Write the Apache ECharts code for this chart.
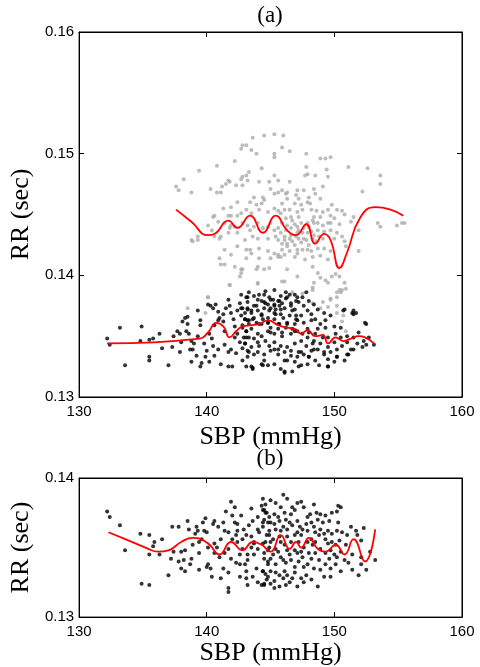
<!DOCTYPE html>
<html><head><meta charset="utf-8">
<script src="https://cdn.jsdelivr.net/npm/echarts@6/dist/echarts.min.js"></script>
<style>html,body{margin:0;padding:0;background:#fff}#c{width:480px;height:667px}</style>
</head><body><div id="c"></div>
<script>
// x ticks / y ticks
const xTicks = [130, 140, 150, 160];
const yTicksA = [0.13, 0.14, 0.15, 0.16];
const yTicksB = [0.13, 0.14];

// Panel (a): gray cloud [SBP, RR]
const grayA = [
[143.6,0.1513],[144.5,0.1515],[145.3,0.1516],[142.8,0.1507],[143.1,0.1507],[142.7,0.1504],[143.5,0.1503],[143.9,0.1500],[145.3,0.1500],[145.3,0.1497],
[142.2,0.1494],[140.8,0.1490],[139.4,0.1486],[138.2,0.1479],[143.3,0.1485],[143.1,0.1482],[144.3,0.1488],[145.3,0.1482],[137.6,0.1473],[137.8,0.1470],
[138.8,0.1468],[140.3,0.1471],[140.8,0.1468],[141.1,0.1468],[141.2,0.1473],[141.5,0.1475],[141.7,0.1478],[141.8,0.1477],[142.3,0.1474],[142.7,0.1479],
[142.8,0.1481],[143.2,0.1478],[142.8,0.1474],[144.1,0.1477],[144.9,0.1477],[145.6,0.1478],[145.0,0.1471],[145.3,0.1467],[145.6,0.1468],[143.7,0.1464],
[144.4,0.1464],[144.5,0.1462],[143.4,0.1460],[143.9,0.1458],[144.3,0.1459],[142.4,0.1460],[141.3,0.1455],[141.9,0.1456],[140.6,0.1449],[140.5,0.1448],
[141.7,0.1449],[141.9,0.1449],[142.4,0.1449],[142.7,0.1451],[143.1,0.1454],[143.5,0.1451],[144.1,0.1454],[144.8,0.1452],[145.3,0.1455],[145.6,0.1453],
[140.9,0.1444],[141.4,0.1443],[141.9,0.1441],[141.8,0.1439],[142.2,0.1440],[142.8,0.1443],[143.2,0.1441],[143.4,0.1437],[143.7,0.1440],[144.0,0.1443],
[144.4,0.1439],[144.8,0.1440],[145.0,0.1443],[145.3,0.1437],[145.6,0.1439],[140.1,0.1441],[140.4,0.1437],[141.7,0.1435],[142.4,0.1435],[140.6,0.1432],
[141.0,0.1430],[141.1,0.1432],[139.3,0.1432],[138.8,0.1429],[138.9,0.1428],[139.3,0.1429],[143.0,0.1429],[143.6,0.1432],[144.0,0.1430],[144.8,0.1430],
[145.4,0.1432],[145.6,0.1429],[141.4,0.1421],[142.4,0.1424],[143.1,0.1421],[143.4,0.1421],[144.1,0.1422],[143.5,0.1418],[144.8,0.1420],[145.3,0.1418],
[145.6,0.1417],[141.0,0.1414],[141.9,0.1417],[143.1,0.1414],[144.1,0.1414],[145.0,0.1414],[145.6,0.1415],[141.1,0.1409],[141.4,0.1409],[142.2,0.1407],
[142.7,0.1405],[142.8,0.1405],[143.9,0.1405],[144.0,0.1407],[144.5,0.1405],[144.9,0.1406],[142.6,0.1399],[142.7,0.1402],[141.8,0.1392],[144.0,0.1393],
[140.1,0.1382],
[146.0,0.1515],[145.9,0.1505],[146.5,0.1502],[147.8,0.1500],[148.9,0.1496],[149.3,0.1496],[149.7,0.1497],[147.8,0.1489],[149.4,0.1487],[151.1,0.1489],
[152.6,0.1488],[147.7,0.1482],[147.9,0.1483],[148.5,0.1482],[149.5,0.1481],[153.6,0.1482],[153.6,0.1475],[146.5,0.1477],[149.1,0.1473],[152.2,0.1469],
[148.4,0.1471],[145.9,0.1470],[146.2,0.1467],[146.3,0.1468],[147.1,0.1470],[147.6,0.1470],[147.0,0.1466],[146.3,0.1463],[147.2,0.1463],[148.0,0.1464],
[148.5,0.1467],[148.9,0.1463],[145.9,0.1459],[146.9,0.1459],[147.4,0.1458],[147.9,0.1460],[148.1,0.1459],[149.8,0.1458],[146.1,0.1454],[146.5,0.1454],
[147.1,0.1452],[147.5,0.1454],[148.2,0.1454],[148.6,0.1453],[149.1,0.1452],[149.5,0.1454],[150.2,0.1454],[150.6,0.1453],[150.8,0.1450],[151.5,0.1448],
[146.6,0.1448],[147.2,0.1448],[148.4,0.1448],[148.9,0.1448],[149.7,0.1449],[150.0,0.1447],[145.9,0.1443],[146.3,0.1441],[146.9,0.1442],[147.4,0.1443],
[148.0,0.1440],[148.4,0.1443],[149.1,0.1441],[149.7,0.1443],[150.4,0.1442],[151.3,0.1444],[146.2,0.1437],[146.6,0.1439],[147.2,0.1437],[147.5,0.1435],
[148.2,0.1436],[148.7,0.1437],[149.2,0.1436],[149.7,0.1437],[150.2,0.1435],[151.9,0.1437],[153.4,0.1443],[153.6,0.1440],[154.9,0.1441],[155.3,0.1443],
[155.5,0.1443],[146.1,0.1432],[146.5,0.1430],[147.0,0.1432],[147.6,0.1430],[147.8,0.1429],[148.8,0.1432],[149.1,0.1430],[150.6,0.1432],[150.8,0.1428],
[145.9,0.1426],[146.3,0.1426],[146.9,0.1425],[147.4,0.1427],[148.0,0.1425],[150.9,0.1424],[145.9,0.1421],[146.5,0.1420],[147.1,0.1421],[147.5,0.1421],
[148.2,0.1420],[149.2,0.1422],[151.9,0.1420],[146.1,0.1417],[146.9,0.1415],[147.7,0.1413],[148.3,0.1415],[148.9,0.1416],[149.5,0.1413],[146.3,0.1405],
[148.3,0.1407],[145.9,0.1395],[147.1,0.1399],[148.7,0.1402],[148.9,0.1398],[149.3,0.1396],[149.8,0.1399],[150.1,0.1401],[150.4,0.1399],[148.4,0.1394],
[149.5,0.1394],[150.8,0.1394],[148.3,0.1390],[150.6,0.1388],[150.2,0.1386],[149.7,0.1381],[150.9,0.1389],
[146.7,0.1386],[147.5,0.1385],[148.3,0.1388],[148.3,0.1377],[149.1,0.1378],[149.7,0.1380],[150.2,0.1382],[150.5,0.1386],[150.4,0.1388],[148.9,0.1373],
[150.2,0.1369],[150.7,0.1367],[150.6,0.1362],[150.9,0.1354],[149.5,0.1374],[150.2,0.1375],[140.1,0.1382],[138.5,0.1373],[139.9,0.1369],[141.8,0.1392],
[144.0,0.1394],[146.1,0.1395],
[145.8,0.1451],[146.2,0.1447],[146.7,0.1445],[147.1,0.1440],[147.6,0.1439],[147.9,0.1443],[148.3,0.1445],[148.7,0.1443],[145.8,0.1435],[146.6,0.1433],
[147.1,0.1435],[147.9,0.1435],[148.4,0.1433],[146.1,0.1429],[146.7,0.1428],[147.2,0.1430],[148.3,0.1430],[148.6,0.1428],[145.8,0.1415],[146.3,0.1424],
[147.1,0.1418],[147.9,0.1421],[148.7,0.1422],[149.7,0.1420],[150.0,0.1430],[149.5,0.1443]
];

// Panel (a): black cloud
const blackA = [
[132.2,0.1348],[132.4,0.1343],[133.2,0.1357],[134.9,0.1358],[133.6,0.1326],[135.5,0.1333],[135.5,0.1330],[134.8,0.1346],[135.5,0.1347],[135.8,0.1348],
[136.3,0.1352],[136.5,0.1340],[137.0,0.1326],[137.3,0.1341],[137.4,0.1350],[137.7,0.1354],[137.9,0.1352],[137.9,0.1337],[138.1,0.1362],[138.3,0.1365],
[138.5,0.1366],[138.4,0.1354],[138.6,0.1352],[138.5,0.1360],[138.7,0.1339],[138.9,0.1339],[139.0,0.1344],[138.8,0.1329],[139.3,0.1371],[139.5,0.1363],
[139.5,0.1359],[139.5,0.1325],[139.6,0.1328],[139.9,0.1333],[139.8,0.1344],[139.3,0.1350],[140.1,0.1376],[140.3,0.1375],[140.5,0.1373],[140.7,0.1376],
[140.9,0.1370],[140.2,0.1352],[140.4,0.1348],[140.5,0.1342],[140.0,0.1338],[141.0,0.1365],[141.3,0.1362],[141.4,0.1354],[141.7,0.1380],[141.8,0.1375],
[141.9,0.1369],[142.1,0.1364],[142.2,0.1358],[141.4,0.1343],[141.7,0.1337],[141.1,0.1327],[141.7,0.1325],[142.0,0.1325],[142.3,0.1336],[142.4,0.1352],
[142.6,0.1377],[142.7,0.1367],[142.8,0.1359],[142.9,0.1349],[143.0,0.1344],[143.2,0.1373],[143.2,0.1382],[143.3,0.1363],[143.2,0.1338],[143.5,0.1325],
[140.6,0.1359],
[143.1,0.1382],[143.2,0.1378],[142.8,0.1373],[143.0,0.1369],[143.5,0.1371],[143.9,0.1375],[144.0,0.1380],[144.5,0.1384],[144.5,0.1378],[144.9,0.1382],
[145.2,0.1380],[145.3,0.1376],[145.6,0.1379],[145.7,0.1375],[145.8,0.1383],[146.3,0.1382],[146.1,0.1373],[146.6,0.1375],[146.7,0.1371],[147.1,0.1382],
[147.2,0.1378],[147.6,0.1375],[147.9,0.1371],[148.2,0.1368],[147.4,0.1367],[147.0,0.1364],[146.5,0.1367],[145.8,0.1368],[145.3,0.1369],[144.8,0.1365],
[144.3,0.1367],[143.7,0.1365],[143.2,0.1363],[142.8,0.1357],[143.1,0.1354],[143.5,0.1356],[144.3,0.1360],[144.8,0.1361],[145.3,0.1364],[145.7,0.1360],
[146.3,0.1360],[146.9,0.1360],[147.6,0.1361],[148.2,0.1363],[148.5,0.1364],[148.9,0.1360],[149.3,0.1363],[148.7,0.1356],[147.9,0.1356],[147.1,0.1354],
[146.6,0.1352],[145.9,0.1353],[145.3,0.1352],[144.8,0.1354],[144.3,0.1350],[143.7,0.1348],[143.3,0.1349],[143.0,0.1344],[143.5,0.1341],[144.1,0.1342],
[144.6,0.1346],[145.3,0.1345],[145.8,0.1342],[146.3,0.1341],[146.9,0.1344],[147.4,0.1346],[147.9,0.1349],[148.4,0.1346],[148.9,0.1344],[149.5,0.1349],
[150.1,0.1352],[150.5,0.1349],[151.0,0.1350],[151.5,0.1349],[151.9,0.1353],[152.4,0.1361],[153.1,0.1343],[151.3,0.1339],[150.6,0.1342],[150.2,0.1339],
[149.7,0.1337],[149.2,0.1335],[148.7,0.1339],[148.2,0.1338],[147.6,0.1335],[147.1,0.1333],[146.6,0.1334],[146.1,0.1337],[145.6,0.1335],[145.0,0.1338],
[144.5,0.1335],[144.0,0.1337],[143.2,0.1333],[143.3,0.1337],[144.5,0.1330],[145.3,0.1327],[146.1,0.1330],[146.9,0.1329],[147.4,0.1326],[148.0,0.1333],
[148.5,0.1330],[149.5,0.1331],[150.2,0.1333],[151.1,0.1335],[144.8,0.1326],[143.6,0.1323],[146.1,0.1321],[147.2,0.1325],[149.5,0.1325],[151.5,0.1371],
[151.7,0.1369],[150.7,0.1371],[145.3,0.1388],[142.7,0.1384],[144.6,0.1387],
[143.2,0.1372],[143.5,0.1369],[143.7,0.1375],[144.0,0.1371],[144.3,0.1368],[144.5,0.1373],[144.6,0.1377],[144.9,0.1371],[145.0,0.1380],[145.3,0.1375],
[145.4,0.1368],[145.7,0.1379],[145.8,0.1372],[146.0,0.1365],[146.2,0.1381],[146.5,0.1384],[146.6,0.1377],[146.9,0.1372],[147.0,0.1367],[147.1,0.1363],
[143.6,0.1364],[144.1,0.1360],[144.8,0.1361],[145.6,0.1360],[146.3,0.1361],[143.1,0.1354],[144.0,0.1352],[145.0,0.1353],[145.9,0.1350],[146.9,0.1354],
[145.3,0.1339],[144.4,0.1326],[146.1,0.1320],[143.6,0.1324],[146.3,0.1330],[147.4,0.1337],[148.0,0.1333],[148.4,0.1339],[149.2,0.1337],[149.5,0.1325],
[150.2,0.1333],[151.0,0.1335],[151.5,0.1339],[152.2,0.1341],[152.5,0.1343],[151.4,0.1369],[151.5,0.1368],[152.5,0.1360],[150.8,0.1372],
[143.3,0.1386],[143.7,0.1383],[144.1,0.1384],[144.3,0.1379],[144.8,0.1376],[145.0,0.1373],[145.4,0.1372],[145.9,0.1377],[146.2,0.1386],[146.9,0.1384],
[147.0,0.1379],[147.5,0.1382],[147.8,0.1386],[148.0,0.1379],[148.4,0.1376],[148.7,0.1372],[149.2,0.1369],[149.7,0.1367],[149.3,0.1357],[150.0,0.1358],
[150.5,0.1357],[143.0,0.1364],[143.3,0.1360],[143.9,0.1361],[144.4,0.1364],[145.0,0.1357],[145.6,0.1356],[146.2,0.1357],[146.7,0.1356],[147.5,0.1352],
[148.0,0.1353],[148.5,0.1352],[149.1,0.1349],[143.1,0.1349],[144.0,0.1345],[144.9,0.1342],[145.6,0.1339],[146.6,0.1338],[147.2,0.1337],[147.8,0.1342],
[148.3,0.1344],[149.5,0.1341],[150.0,0.1345],[151.0,0.1345],[151.8,0.1344],[152.3,0.1346],[152.7,0.1349],[144.3,0.1327],[145.8,0.1323],[146.7,0.1321],
[147.9,0.1327],[148.8,0.1326],[150.0,0.1329],[150.8,0.1330],[143.7,0.1335],[142.8,0.1340],[142.8,0.1330],[143.1,0.1325],
[140.9,0.1363],[141.3,0.1368],[141.5,0.1373],[142.4,0.1371],[142.7,0.1373],[143.0,0.1364],[142.2,0.1349],[142.6,0.1345],[141.9,0.1339],[140.9,0.1339],
[140.6,0.1334],[140.2,0.1329],[139.2,0.1334],[138.8,0.1346],[138.0,0.1345]
];

// Panel (a): fitted curves
const curveGrayA = [
[137.6,0.1454],[138.8,0.1444],[140.1,0.1433],[140.6,0.1434],[141.7,0.1445],[142.4,0.1439],[143.4,0.1449],[144.4,0.1435],[145.4,0.1449],[146.3,0.1437],
[147.0,0.1433],[147.8,0.1442],[148.5,0.1426],[149.2,0.1434],[149.7,0.1429],[150.4,0.1406],[151.0,0.1419],[152.0,0.1447],[153.2,0.1456],[154.4,0.1454],
[155.4,0.1449]
];
const curveBlackA = [
[132.2,0.1344],[139.45,0.1348],[140.1,0.1353],[140.75,0.1361],[141.3,0.1358],[141.8,0.1349],[142.3,0.1354],[142.8,0.1358],[143.5,0.1359],[144.1,0.1360],
[144.8,0.1363],[145.6,0.1359],[146.3,0.1357],[146.9,0.1356],[147.4,0.1352],[147.9,0.1355],[148.5,0.1350],[149.1,0.1351],[149.5,0.1344],[150.1,0.1349],
[150.7,0.1346],[151.3,0.1348],[151.9,0.1350],[152.4,0.1349],[153.1,0.1344]
];

// Panel (b): black cloud
const blackB = [
[132.2,0.1376],[132.4,0.1372],[133.2,0.1366],[133.6,0.1348],[134.8,0.1360],[135.5,0.1359],[135.5,0.1345],[134.9,0.1324],[135.5,0.1323],[137.0,0.1330],
[137.3,0.1365],[137.8,0.1365],[135.8,0.1351],[135.9,0.1354],[136.5,0.1356],[136.3,0.1345],[137.2,0.1342],[137.4,0.1347],[137.8,0.1340],[138.0,0.1347],
[138.3,0.1348],[138.2,0.1341],[138.5,0.1369],[138.6,0.1363],[138.7,0.1338],[138.3,0.1333],[138.9,0.1352],[139.1,0.1360],[139.2,0.1365],[139.3,0.1362],
[139.4,0.1346],[139.4,0.1334],[139.6,0.1356],[139.7,0.1368],[139.8,0.1362],[139.9,0.1371],[140.0,0.1361],[140.1,0.1338],[140.0,0.1336],[140.3,0.1335],
[140.4,0.1329],[140.5,0.1367],[140.6,0.1369],[140.6,0.1353],[140.9,0.1365],[140.8,0.1350],[141.0,0.1343],[141.1,0.1356],[141.3,0.1335],[141.4,0.1362],
[141.4,0.1346],[141.5,0.1376],[141.7,0.1321],[141.7,0.1318],[141.9,0.1383],[142.0,0.1373],[142.2,0.1379],[142.2,0.1368],[142.3,0.1359],[142.4,0.1362],
[142.3,0.1339],[142.6,0.1345],[142.7,0.1373],[142.8,0.1349],[142.9,0.1363],[143.0,0.1338],[143.1,0.1333],[143.2,0.1323],[143.3,0.1366],[143.5,0.1358],
[143.6,0.1369],[143.7,0.1353],[143.7,0.1345],[143.9,0.1335],[144.0,0.1363],[144.1,0.1361],[144.3,0.1380],[144.4,0.1368],[144.5,0.1377],[144.5,0.1342],
[144.6,0.1354],[144.8,0.1338],[144.9,0.1359],[144.0,0.1325],[144.3,0.1323],[144.5,0.1323],[143.6,0.1329],[143.1,0.1328],[142.6,0.1329],[143.5,0.1350],
[142.8,0.1356],[141.7,0.1349],[141.9,0.1342],[142.4,0.1354],
[146.0,0.1388],[145.0,0.1384],[145.8,0.1379],[146.7,0.1379],[147.1,0.1382],[147.4,0.1383],[148.4,0.1381],[150.3,0.1380],[150.5,0.1379],[150.2,0.1376],
[144.4,0.1377],[144.7,0.1375],[145.3,0.1374],[146.1,0.1375],[146.6,0.1374],[148.1,0.1374],[148.6,0.1375],[148.9,0.1374],[144.5,0.1370],[145.0,0.1368],
[145.7,0.1369],[146.2,0.1370],[146.5,0.1368],[147.1,0.1369],[147.8,0.1367],[148.2,0.1368],[149.1,0.1368],[149.6,0.1369],[150.3,0.1368],[151.3,0.1365],
[152.3,0.1364],[151.7,0.1362],[144.4,0.1365],[144.9,0.1362],[145.4,0.1363],[146.0,0.1365],[146.7,0.1366],[147.3,0.1365],[147.5,0.1363],[148.4,0.1365],
[148.9,0.1363],[149.5,0.1362],[150.2,0.1362],[150.6,0.1361],[151.0,0.1359],[144.7,0.1359],[145.2,0.1356],[145.7,0.1358],[146.3,0.1358],[146.9,0.1359],
[147.4,0.1359],[148.2,0.1356],[148.8,0.1359],[149.3,0.1356],[149.8,0.1354],[150.4,0.1355],[150.9,0.1352],[151.8,0.1359],[152.1,0.1355],[144.4,0.1353],
[144.9,0.1350],[145.4,0.1349],[146.1,0.1352],[146.9,0.1348],[147.6,0.1350],[148.3,0.1352],[148.9,0.1349],[149.7,0.1348],[150.5,0.1347],[151.4,0.1345],
[152.1,0.1343],[152.8,0.1347],[144.5,0.1346],[145.2,0.1345],[145.8,0.1343],[146.5,0.1345],[147.1,0.1346],[147.5,0.1343],[148.2,0.1342],[148.8,0.1341],
[149.6,0.1342],[150.2,0.1343],[151.1,0.1339],[152.1,0.1338],[153.2,0.1341],[144.8,0.1340],[145.4,0.1338],[146.2,0.1339],[146.9,0.1336],[147.9,0.1338],
[148.4,0.1335],[148.9,0.1334],[149.7,0.1335],[150.5,0.1333],[151.4,0.1334],[152.5,0.1334],[144.4,0.1333],[145.0,0.1333],[145.7,0.1330],[146.3,0.1330],
[146.9,0.1332],[147.8,0.1330],[149.2,0.1329],[151.9,0.1330],[144.7,0.1327],[145.3,0.1326],[146.0,0.1328],[146.5,0.1325],[147.1,0.1322],[148.7,0.1322],
[144.5,0.1324],[145.0,0.1324],[145.7,0.1322],[148.2,0.1327],[149.7,0.1329],
[144.6,0.1381],[145.4,0.1382],[146.3,0.1385],[146.9,0.1377],[147.6,0.1379],[147.9,0.1372],[148.7,0.1370],[149.3,0.1373],[149.8,0.1375],[145.3,0.1367],
[145.8,0.1362],[146.3,0.1363],[147.1,0.1361],[147.9,0.1362],[148.5,0.1361],[149.2,0.1360],[149.8,0.1360],[145.0,0.1354],[145.8,0.1354],[146.6,0.1354],
[147.2,0.1354],[147.9,0.1354],[148.5,0.1354],[149.5,0.1353],[150.1,0.1352],[144.8,0.1348],[145.6,0.1347],[146.3,0.1348],[147.4,0.1347],[148.0,0.1346],
[148.5,0.1346],[149.3,0.1346],[150.0,0.1345],[150.8,0.1341],[145.0,0.1342],[146.0,0.1341],[146.6,0.1341],[147.2,0.1340],[147.6,0.1336],[149.3,0.1338],
[150.1,0.1338],[144.6,0.1331],[145.4,0.1332],[146.1,0.1333],[147.4,0.1328],[146.7,0.1328],[145.3,0.1321],[146.2,0.1323],[147.6,0.1325],[144.4,0.1385],
[144.9,0.1372],[145.6,0.1372],
[141.3,0.1368],[141.7,0.1361],[142.0,0.1356],[142.4,0.1367],[143.1,0.1359],[143.2,0.1345],[143.7,0.1354],[144.0,0.1349],[144.4,0.1333],[144.8,0.1329],
[143.2,0.1341],[142.6,0.1338],[141.7,0.1332],[141.1,0.1328],[144.8,0.1368],[144.6,0.1375],[144.0,0.1372],[143.5,0.1378],[140.6,0.1346],[140.1,0.1350],
[139.4,0.1354],[138.8,0.1342],[138.0,0.1335]
];

// Panel (b): fitted curve
const curveB = [
[132.3,0.1361],[133.9,0.1355],[135.2,0.1350],[136.2,0.1347],[137.0,0.1348],[138.0,0.1354],[138.9,0.1357],[140.1,0.1353],[141.0,0.1345],[141.9,0.1354],
[142.8,0.1348],[143.6,0.1354],[144.3,0.1352],[145.0,0.1347],[145.8,0.1359],[146.5,0.1349],[147.0,0.1354],[147.4,0.1350],[148.0,0.1357],[148.7,0.1349],
[149.3,0.1347],[150.1,0.1352],[150.8,0.1345],[151.5,0.1356],[152.4,0.1340],[153.2,0.1363]
];

const chart = echarts.init(document.getElementById('c'), null, {renderer: 'canvas'});
const sans = 'Liberation Sans';
const serif = 'Liberation Serif';
const lab = {color: '#000', fontFamily: sans, fontSize: 15};
function xAx(grid, pos, showLabel, name, gap) {
  return {
    gridIndex: grid, type: 'value', position: pos, min: xTicks[0], max: xTicks[xTicks.length - 1], interval: 10,
    axisLine: {show: true, onZero: false, lineStyle: {color: '#000', width: 1}},
    axisTick: {show: true, inside: true, length: 5, lineStyle: {color: '#000'}},
    axisLabel: Object.assign({show: showLabel, margin: 7}, lab),
    splitLine: {show: false},
    name: name || '', nameLocation: 'middle', nameGap: gap || 0,
    nameTextStyle: {color: '#000', fontFamily: serif, fontSize: 26}
  };
}
function yAx(grid, pos, ticks, showLabel, name, gap) {
  return {
    gridIndex: grid, type: 'value', position: pos, min: ticks[0], max: ticks[ticks.length - 1], interval: 0.01,
    axisLine: {show: true, onZero: false, lineStyle: {color: '#000', width: 1}},
    axisTick: {show: true, inside: true, length: 5, lineStyle: {color: '#000'}},
    axisLabel: Object.assign({show: showLabel, margin: 5, formatter: v => v.toFixed(2)}, lab),
    splitLine: {show: false},
    name: name || '', nameLocation: 'middle', nameGap: gap || 0, nameRotate: 90,
    nameTextStyle: {color: '#000', fontFamily: serif, fontSize: 26}
  };
}
const dot = (data, color, xi, yi) => ({
  type: 'scatter', data, xAxisIndex: xi, yAxisIndex: yi, symbol: 'circle', symbolSize: 4,
  itemStyle: {color}, silent: true
});
const line = (data, xi, yi) => ({
  type: 'line', data, xAxisIndex: xi, yAxisIndex: yi, smooth: 0.5, showSymbol: false,
  lineStyle: {color: '#ff0000', width: 1.8}, silent: true, z: 5
});

chart.setOption({
  animation: false,
  backgroundColor: '#fff',
  grid: [
    {left: 77, top: 32, width: 385, height: 365, show: true, borderColor: '#000', borderWidth: 1},
    {left: 77, top: 478, width: 385, height: 142, show: true, borderColor: '#000', borderWidth: 1}
  ],
  xAxis: [
    xAx(0, 'bottom', true, 'SBP (mmHg)', 21), xAx(0, 'top', false),
    xAx(1, 'bottom', true, 'SBP (mmHg)', 21), xAx(1, 'top', false)
  ],
  yAxis: [
    yAx(0, 'left', yTicksA, true, 'RR (sec)', 31), yAx(0, 'right', yTicksA, false),
    yAx(1, 'left', yTicksB, true, 'RR (sec)', 31), yAx(1, 'right', yTicksB, false)
  ],
  graphic: [
    {type: 'text', x: 270, y: 16, style: {text: '(a)', font: '23px "Liberation Serif"', fill: '#000', textAlign: 'center', textVerticalAlign: 'middle'}},
    {type: 'text', x: 270, y: 459, style: {text: '(b)', font: '23px "Liberation Serif"', fill: '#000', textAlign: 'center', textVerticalAlign: 'middle'}}
  ],
  series: [
    dot(grayA, '#ababab', 0, 0),
    dot(blackA, '#000', 0, 0),
    line(curveGrayA, 0, 0),
    line(curveBlackA, 0, 0),
    dot(blackB, '#000', 2, 2),
    line(curveB, 2, 2)
  ]
});
</script></body></html>
